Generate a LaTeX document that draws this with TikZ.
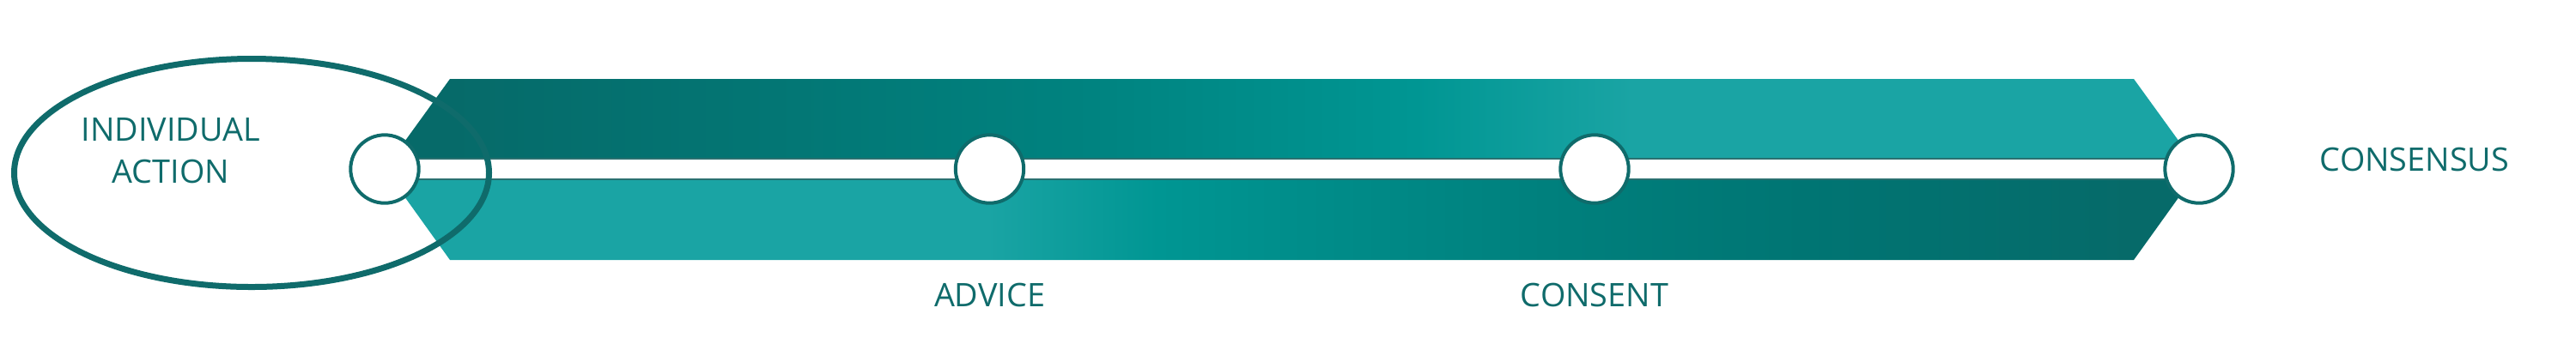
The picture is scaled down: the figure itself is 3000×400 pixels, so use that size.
\documentclass[tikz,border=0pt]{standalone}
\usepackage{fontspec}
\setmainfont{Open Sans}

\definecolor{tealdark}{HTML}{066A69}
\definecolor{tealdeep}{HTML}{037674}
\definecolor{tealmid}{HTML}{00827F}
\definecolor{tealbright}{HTML}{009693}
\definecolor{tealsea}{HTML}{008E8B}
\definecolor{tealshade}{HTML}{00807D}
\definecolor{tealdusk}{HTML}{007573}
\definecolor{teallight}{HTML}{1AA4A4}
\definecolor{inkteal}{HTML}{0F6B6B}

\pgfdeclarehorizontalshading{uppershade}{100bp}{color(0bp)=(tealdark); color(26.8bp)=(tealdark); color(35.7bp)=(tealdeep); color(44bp)=(tealmid); color(53.4bp)=(tealbright); color(59.4bp)=(teallight); color(100bp)=(teallight)}
\pgfdeclarehorizontalshading{lowershade}{100bp}{color(0bp)=(teallight); color(41.6bp)=(teallight); color(46.3bp)=(tealbright); color(49.9bp)=(tealsea); color(57bp)=(tealshade); color(64.1bp)=(tealdusk); color(73.2bp)=(tealdark); color(100bp)=(tealdark)}

\tikzstyle{stage}=[shape=circle,draw=inkteal,fill=white,line width=0.4mm,minimum size=7.94mm,inner sep=0pt]
\tikzstyle{stagetext}=[text=inkteal,font=\fontsize{10.75}{13.9}\selectfont,inner sep=0pt,anchor=base]
\tikzstyle{track}=[draw=tealdark!70!gray,line width=0.15mm,double=white,double distance=2.25mm]
\tikzstyle{ring}=[draw=inkteal,line width=0.7mm]

\begin{document}
\begin{tikzpicture}[x=0.1mm,y=-0.1mm]
\useasboundingbox (0,0) rectangle (3000,400);
% band
\coordinate (p1) at (448,197);
\coordinate (p2) at (1152.5,197);
\coordinate (p3) at (1857,197);
\coordinate (p4) at (2561,197);
\shade[shading=uppershade] (p1) -- (524,92) -- (2485,92) -- (p4) -- cycle;
\shade[shading=lowershade] (p1) -- (524,303) -- (2485,303) -- (p4) -- cycle;
\draw[track] (p1) -- (p4);
% individual action
\draw[ring] (293,201.5) ellipse [x radius=276.5, y radius=133];
% stages
\node[stage] (s1) at (p1) {};
\node[stage] (s2) at (p2) {};
\node[stage] (s3) at (p3) {};
\node[stage] (s4) at (p4) {};
% labels
\node[stagetext,align=center] (t1) at (199,213) {INDIVIDUAL\\ACTION};
\node[stagetext] (t2) at (1152.5,357) {ADVICE};
\node[stagetext] (t3) at (1857,357) {CONSENT};
\node[stagetext] (t4) at (2812,199) {CONSENSUS};
\end{tikzpicture}
\end{document}
